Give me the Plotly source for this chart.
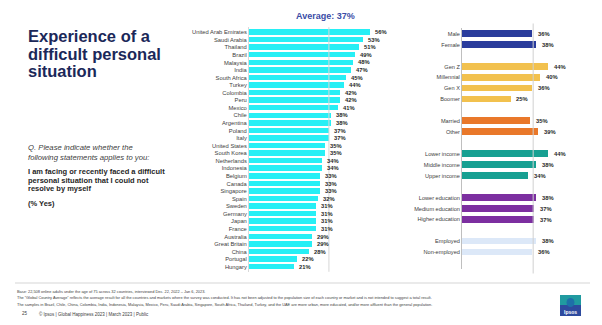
import plotly.graph_objects as go

W, H = 602, 325

# ---------------- data ----------------
countries = ["United Arab Emirates", "Saudi Arabia", "Thailand", "Brazil", "Malaysia", "India",
             "South Africa", "Turkey", "Colombia", "Peru", "Mexico", "Chile", "Argentina",
             "Poland", "Italy", "United States", "South Korea", "Netherlands", "Indonesia",
             "Belgium", "Canada", "Singapore", "Spain", "Sweden", "Germany", "Japan", "France",
             "Australia", "Great Britain", "China", "Portugal", "Hungary"]
country_vals = [56, 53, 51, 49, 48, 47, 45, 44, 42, 42, 41, 38, 38, 37, 37, 35, 35, 34, 34,
                33, 33, 33, 32, 31, 31, 31, 31, 29, 29, 28, 22, 21]
average = 37

gender_labels = ["Male", "Female"]
gender_vals = [36, 38]
generation_labels = ["Gen Z", "Millennial", "Gen X", "Boomer"]
generation_vals = [44, 40, 36, 25]
marital_labels = ["Married", "Other"]
marital_vals = [35, 39]
income_labels = ["Lower income", "Middle income", "Upper income"]
income_vals = [44, 38, 34]
education_labels = ["Lower education", "Medium education", "Higher education"]
education_vals = [38, 37, 37]
employment_labels = ["Employed", "Non-employed"]
employment_vals = [38, 36]

groups = [
    (gender_labels, gender_vals, "#2A3C9C"),
    (generation_labels, generation_vals, "#F2C14E"),
    (marital_labels, marital_vals, "#E9782A"),
    (income_labels, income_vals, "#17A092"),
    (education_labels, education_vals, "#7C2FA0"),
    (employment_labels, employment_vals, "#DCE8F8"),
]

FONT = "Liberation Sans, Arial, sans-serif"
TXT = "#1f1f1f"
ann = []

fig = go.Figure()

# ---------------- left chart: countries ----------------
fig.add_trace(go.Bar(
    x=country_vals, y=countries, orientation="h",
    marker=dict(color="#27EFF5", line=dict(width=0)),
    width=0.72, hoverinfo="skip",
    xaxis="x", yaxis="y",
))
for c, v in zip(countries, country_vals):
    ann.append(dict(x=v, y=c, xref="x", yref="y", text=f"<b>{v}%</b>", showarrow=False,
                    xanchor="left", yanchor="middle", xshift=3,
                    font=dict(family=FONT, size=5.8, color=TXT)))

# ---------------- right chart: demographics ----------------
pos = 0
tickvals, ticktext = [], []
for labels, vals, color in groups:
    ys = []
    for lab in labels:
        ys.append(pos)
        tickvals.append(pos)
        ticktext.append(lab)
        pos += 1
    pos += 1  # blank slot between groups
    fig.add_trace(go.Bar(
        x=vals, y=ys, orientation="h",
        marker=dict(color=color, line=dict(width=0)),
        width=0.62, hoverinfo="skip",
        xaxis="x2", yaxis="y2",
    ))
    for yv, v in zip(ys, vals):
        ann.append(dict(x=v, y=yv, xref="x2", yref="y2", text=f"<b>{v}%</b>", showarrow=False,
                        xanchor="left", yanchor="middle", xshift=3.5,
                        font=dict(family=FONT, size=5.8, color=TXT)))
nslots = pos - 1

# geometry (pixels -> paper)
def px(x):
    return x / W

def py(y):
    return 1 - y / H

L0 = 249
left_scale = 2.16  # px per %
left_w = 130
R0 = 462
right_scale = 1.955
right_w = 98

fig.update_layout(
    width=W, height=H, autosize=False,
    margin=dict(l=0, r=0, t=0, b=0),
    paper_bgcolor="white", plot_bgcolor="rgba(0,0,0,0)",
    showlegend=False, bargap=0,
    font=dict(family=FONT, color="#404040"),
    xaxis=dict(domain=[px(L0), px(L0 + left_w)], range=[0, left_w / left_scale],
               visible=False, fixedrange=True),
    yaxis=dict(domain=[py(271.8), py(27.2)], autorange="reversed", type="category",
               categoryorder="array", categoryarray=countries,
               showgrid=False, zeroline=False, ticks="", showline=True,
               linecolor="#D9D9D9", linewidth=1,
               tickfont=dict(family=FONT, size=5.8, color="#404040"), fixedrange=True),
    xaxis2=dict(domain=[px(R0), px(R0 + right_w)], range=[0, right_w / right_scale],
                visible=False, anchor="y2", fixedrange=True),
    yaxis2=dict(domain=[py(268.7), py(28.3)], range=[nslots + 0.5, -0.5],
                tickmode="array", tickvals=tickvals, ticktext=ticktext,
                showgrid=False, zeroline=False, ticks="", showline=True,
                linecolor="#BFBFBF", linewidth=1, anchor="x2",
                tickfont=dict(family=FONT, size=5.6, color="#404040"), fixedrange=True),
)

# average lines
fig.add_shape(type="line", xref="x", yref="y domain", x0=average, x1=average, y0=0, y1=1,
              line=dict(color="#D6D6D6", width=1), layer="above")
fig.add_shape(type="line", xref="x2", yref="y2 domain", x0=average - 0.6, x1=average - 0.6, y0=-0.02, y1=1.02,
              line=dict(color="#D0D0D0", width=1), layer="above")

# footer separator
fig.add_shape(type="line", xref="paper", yref="paper", x0=px(15), x1=px(590), y0=py(283), y1=py(283),
              line=dict(color="#E3E3E3", width=1.5))

# logo
fig.add_shape(type="rect", xref="paper", yref="paper", x0=px(560), x1=px(581), y0=py(316), y1=py(295),
              fillcolor="#2D4A9E", line=dict(width=0))
fig.add_shape(type="rect", xref="paper", yref="paper", x0=px(560), x1=px(581), y0=py(305), y1=py(295),
              fillcolor="#1FA3A0", line=dict(width=0), opacity=0.9)
fig.add_shape(type="circle", xref="paper", yref="paper", x0=px(566.5), x1=px(574.5), y0=py(307), y1=py(298),
              fillcolor="#1E6FA8", line=dict(width=0))


def add_text(x, y, text, size, color, bold=False, italic=False, xanchor="left", yanchor="middle"):
    t = text
    if bold:
        t = f"<b>{t}</b>"
    if italic:
        t = f"<i>{t}</i>"
    ann.append(dict(x=px(x), y=py(y), xref="paper", yref="paper", text=t, showarrow=False,
                    xanchor=xanchor, yanchor=yanchor, align="left",
                    font=dict(family=FONT, size=size, color=color)))

# title
for i, line in enumerate(["Experience of a", "difficult personal", "situation"]):
    add_text(26, 35.5 + i * 18, line, 16.5, "#1B2859", bold=True)

# question
for i, line in enumerate(["Q. Please indicate whether the", "following statements applies to you:"]):
    add_text(26, 147 + i * 10, line, 7.7, "#404040", italic=True)
for i, line in enumerate(["I am facing or recently faced a difficult",
                          "personal situation that I could not", "resolve by myself"]):
    add_text(26, 171.5 + i * 8.7, line, 7.5, "#262626", bold=True)
add_text(26, 203, "(% Yes)", 7.5, "#262626", bold=True)

# average label
add_text(325.5, 15.5, f"Average: {average}%", 9, "#3A4CA6", bold=True, xanchor="center")

# footnotes
notes = [
    "Base: 22,508 online adults under the age of 75 across 32 countries, interviewed Dec. 22, 2022 \u2013 Jan 6, 2023.",
    "The \u201cGlobal Country Average\u201d reflects the average result for all the countries and markets where the survey was conducted. It has not been adjusted to the population size of each country or market and is not intended to suggest a total result.",
    "The samples in Brazil, Chile, China, Colombia, India, Indonesia, Malaysia, Mexico, Peru, Saudi Arabia, Singapore, South Africa, Thailand, Turkey, and the UAE are more urban, more educated, and/or more affluent than the general population.",
]
for i, line in enumerate(notes):
    add_text(15, 291 + i * 6.5, line, 3.9, "#404040")
add_text(20, 313.5, "25", 4.5, "#404040")
add_text(36.5, 313.5, "\u00a9 Ipsos | Global Happiness 2023 | March 2023 | Public", 4.5, "#404040")
add_text(570.5, 312, "Ipsos", 5, "white", bold=True, xanchor="center")

fig.update_layout(annotations=ann)

fig.write_html("out.html")
